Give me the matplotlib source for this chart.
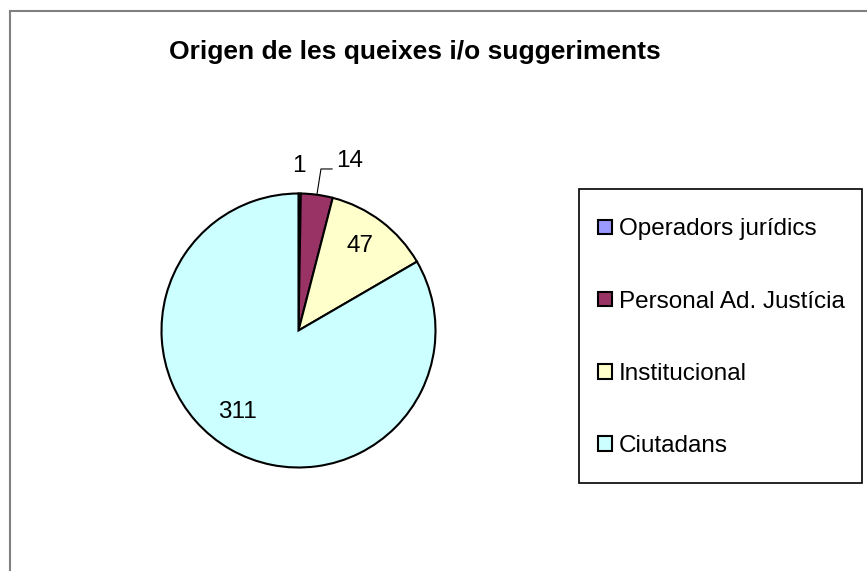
import numpy as np
import matplotlib
matplotlib.use("Agg")
import matplotlib.pyplot as plt
import matplotlib.patches as patches

plt.rcParams['font.family'] = ['Liberation Sans', 'DejaVu Sans']

# data
categories = ['Operadors jurídics', 'Personal Ad. Justícia', 'Institucional', 'Ciutadans']
values = [1, 14, 47, 311]
colors = ['#9999FF', '#993366', '#FFFFCC', '#CCFFFF']
title = 'Origen de les queixes i/o suggeriments'

W, H = 867, 571
fig = plt.figure(figsize=(W / 100, H / 100), dpi=100)

# outer chart frame (cut off at right and bottom)
fig.add_artist(patches.Rectangle((10 / W, -0.05), 1.0, (H - 11) / H + 0.05,
                                 transform=fig.transFigure, facecolor='none',
                                 edgecolor='#808080', linewidth=1.5))

# pie axes: centre (298.5, 330.5) px, radius 137 px
cx, cy, r = 298.5, 330.5, 137
ax = fig.add_axes([(cx - r) / W, (H - cy - r) / H, 2 * r / W, 2 * r / H])
wedges, _ = ax.pie(values, colors=colors, startangle=90, counterclock=False,
                   wedgeprops=dict(edgecolor='black', linewidth=1.5))
ax.set_xlim(-1, 1)
ax.set_ylim(-1, 1)
ax.set_aspect('equal')
ax.axis('off')

# value labels
total = float(sum(values))
cum = np.cumsum([0] + values)
mid = [(cum[i] + cum[i + 1]) / 2 / total * 2 * np.pi for i in range(len(values))]
fs = 17.5
# "1" directly above
ax.text(0.0, 1.2, str(values[0]), ha='center', va='center', fontsize=fs, clip_on=False)
# "14" with leader line
a = mid[1]
ex, ey = np.sin(a), np.cos(a)
ax.plot([ex, 0.164, 0.245], [ey, 1.179, 1.179], color='black', linewidth=0.8, clip_on=False)
ax.text(0.376, 1.235, str(values[1]), ha='center', va='center', fontsize=fs, clip_on=False)
# inside labels
ax.text(0.449, 0.617, str(values[2]), ha='center', va='center', fontsize=fs)
ax.text(-0.449, -0.595, str(values[3]), ha='center', va='center', fontsize=fs)

fig.text(415 / W, 1 - 52 / H, title, ha='center', va='center', fontsize=19, fontweight='bold')

# legend box
fig.add_artist(patches.Rectangle((579 / W, 1 - 483 / H), 283 / W, 294 / H,
                                 transform=fig.transFigure, facecolor='white',
                                 edgecolor='black', linewidth=1.2, zorder=1))
leg = fig.legend(wedges, categories, loc='upper left',
                 bbox_to_anchor=(579 / W, 1 - 199 / H),
                 fontsize=fs, frameon=False,
                 handlelength=0.55, handleheight=0.55, handletextpad=0.3,
                 labelspacing=2.07, borderpad=0.8, borderaxespad=0)
leg.set_zorder(2)
for h in leg.legend_handles:
    h.set_linewidth(1.5)

fig.savefig('out.png', dpi=100)
